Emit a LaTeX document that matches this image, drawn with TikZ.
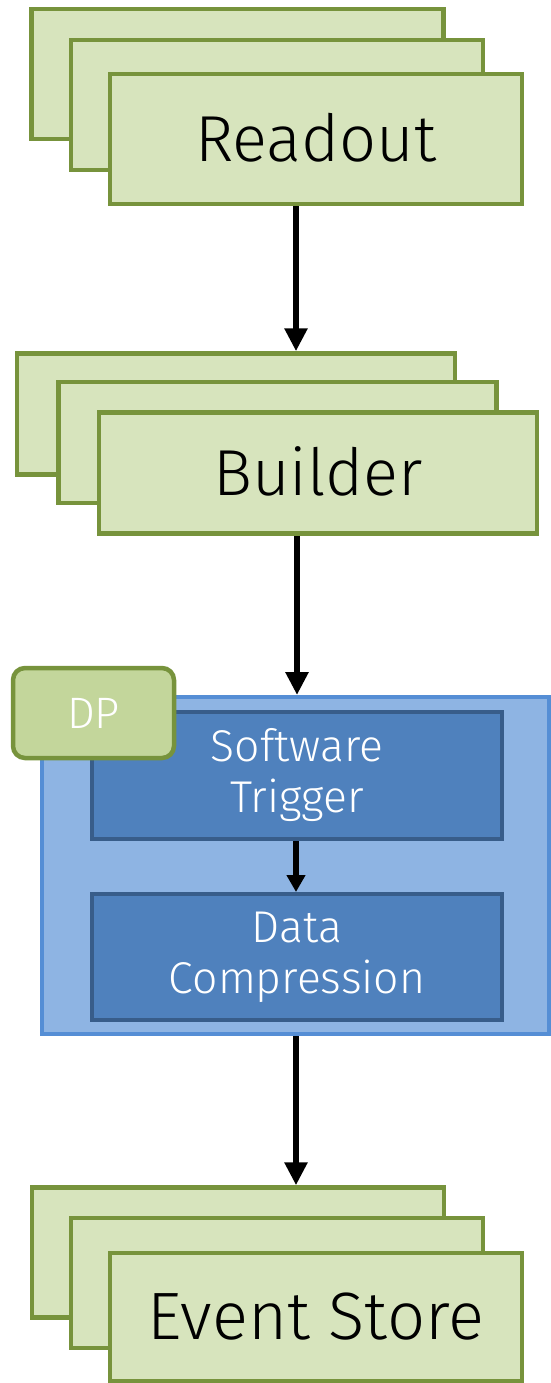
\documentclass[tikz,border=0pt]{standalone}
\usepackage{fontspec}
\setmainfont{Fira Sans Light}
\usetikzlibrary{arrows.meta}

\definecolor{gfill}{HTML}{D7E4BD}
\definecolor{gborder}{HTML}{77933C}
\definecolor{dpfill}{HTML}{C3D69B}
\definecolor{cfill}{HTML}{8EB4E3}
\definecolor{cborder}{HTML}{558ED5}
\definecolor{bfill}{HTML}{4F81BD}
\definecolor{bborder}{HTML}{385D8A}

\tikzset{
  stackbox/.style={draw=gborder, fill=gfill, line width=4.5pt, inner sep=0pt,
    minimum width=412pt, minimum height=130pt, font=\fontsize{65}{65}\selectfont,
    text height=45pt, text depth=0pt},
  container/.style={draw=cborder, fill=cfill, line width=4pt, inner sep=0pt},
  procbox/.style={draw=bborder, fill=bfill, line width=4pt, inner sep=0pt,
    minimum width=410pt, minimum height=127pt, text=white, align=center,
    font=\fontsize{44.5}{51}\selectfont},
  tagbox/.style={draw=gborder, fill=dpfill, line width=4.5pt, rounded corners=12pt,
    inner sep=0pt, minimum width=161pt, minimum height=90pt, text=white,
    font=\fontsize{44}{44}\selectfont, text height=30pt, text depth=0pt},
  flow/.style={line width=6pt, -{Triangle[width=22pt,length=23pt]}},
  smallflow/.style={line width=6pt, -{Triangle[width=18pt,length=17pt]}}
}

\begin{document}
\begin{tikzpicture}[x=1pt,y=-1pt]
\useasboundingbox (0,0) rectangle (551,1383);

% Readout stack
\node[stackbox] (ro-back) at (237.5,74) {};
\node[stackbox] (ro-mid) at (277,105) {};
\node[stackbox] (ro-front) at (316,139) {Readout};

% Builder stack
\node[stackbox, minimum width=438pt, minimum height=121pt] (bu-back) at (236,414) {};
\node[stackbox, minimum width=438pt, minimum height=121pt] (bu-mid) at (277.5,442.5) {};
\node[stackbox, minimum width=438pt, minimum height=121pt] (bu-front) at (318,473) {Builder};

% Data processing block
\node[container, minimum width=507pt, minimum height=337pt] (dp-area) at (295.5,865.5) {};
\node[procbox] (trigger) at (297,775.5) {Software\\Trigger};
\node[procbox, minimum height=126pt] (compress) at (297,957) {Data\\Compression};
\node[tagbox] (dp-tag) at (93.5,713) {DP};

% Event Store stack
\node[stackbox] (es-back) at (238,1252.5) {};
\node[stackbox] (es-mid) at (277,1283) {};
\node[stackbox, minimum height=128pt, font=\fontsize{67}{67}\selectfont] (es-front) at (316,1317) {Event Store};

% flow axis
\coordinate (ax) at (296,0);
\coordinate (bx) at (297,0);

\draw[flow] (ro-front.south -| ax) -- (bu-back.north -| ax);
\draw[flow] (bu-front.south -| bx) -- (dp-area.north -| bx);
\draw[smallflow] (trigger.south -| ax) -- (compress.north -| ax);
\draw[flow] (dp-area.south -| ax) -- (es-back.north -| ax);
\end{tikzpicture}
\end{document}
